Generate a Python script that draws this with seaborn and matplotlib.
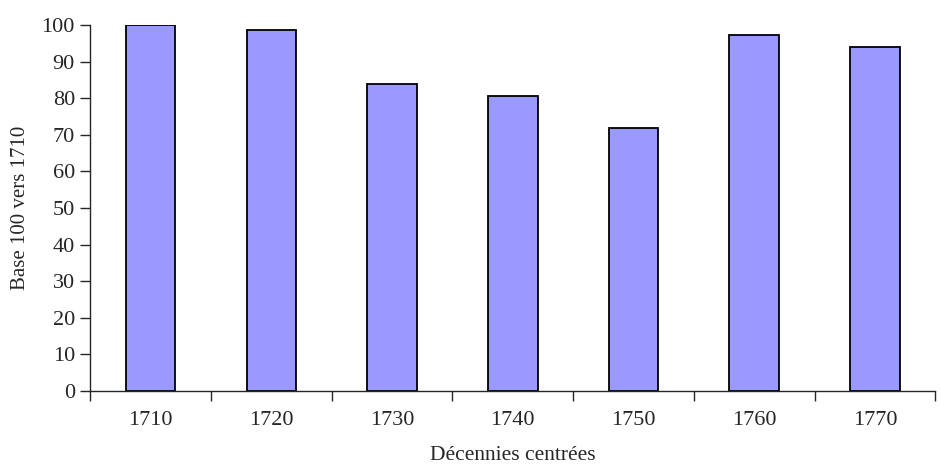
import matplotlib
matplotlib.use("Agg")
import matplotlib.pyplot as plt
import seaborn as sns
import pandas as pd
import numpy as np

# Données
decennies = ["1710", "1720", "1730", "1740", "1750", "1760", "1770"]
indice = [100, 98.6, 83.9, 80.7, 71.8, 97.3, 94.1]

df = pd.DataFrame({"decennie": decennies, "indice": indice})

sns.set_style("ticks")
plt.rcParams["font.family"] = ["Liberation Serif", "DejaVu Serif"]

fig = plt.figure(figsize=(9.4, 4.65), dpi=100)
ax = fig.add_axes([0.096, 0.159, 0.899, 0.787])

sns.barplot(data=df, x="decennie", y="indice", color="#9999FF",
            saturation=1, width=0.41, edgecolor="black", linewidth=1.3, ax=ax)

ax.set_xlim(-0.5, len(decennies) - 0.5)
ax.set_ylim(0, 100)
ax.set_yticks(range(0, 101, 10))

# graduations entre les catégories
ax.set_xticks(np.arange(-0.5, len(decennies), 1), minor=True)
ax.tick_params(axis="x", which="major", length=0, labelsize=16, pad=14)
ax.tick_params(axis="x", which="minor", length=7, width=1, direction="out")
ax.tick_params(axis="y", length=7, width=1, direction="out", labelsize=16, pad=4)

ax.set_xlabel("Décennies centrées", fontsize=15.5, labelpad=12)
ax.set_ylabel("Base 100 vers 1710", fontsize=15, labelpad=8)

for s in ["top", "right"]:
    ax.spines[s].set_visible(False)
ax.spines["left"].set_linewidth(1)
ax.spines["bottom"].set_linewidth(1)

fig.savefig("out.png", dpi=100)
